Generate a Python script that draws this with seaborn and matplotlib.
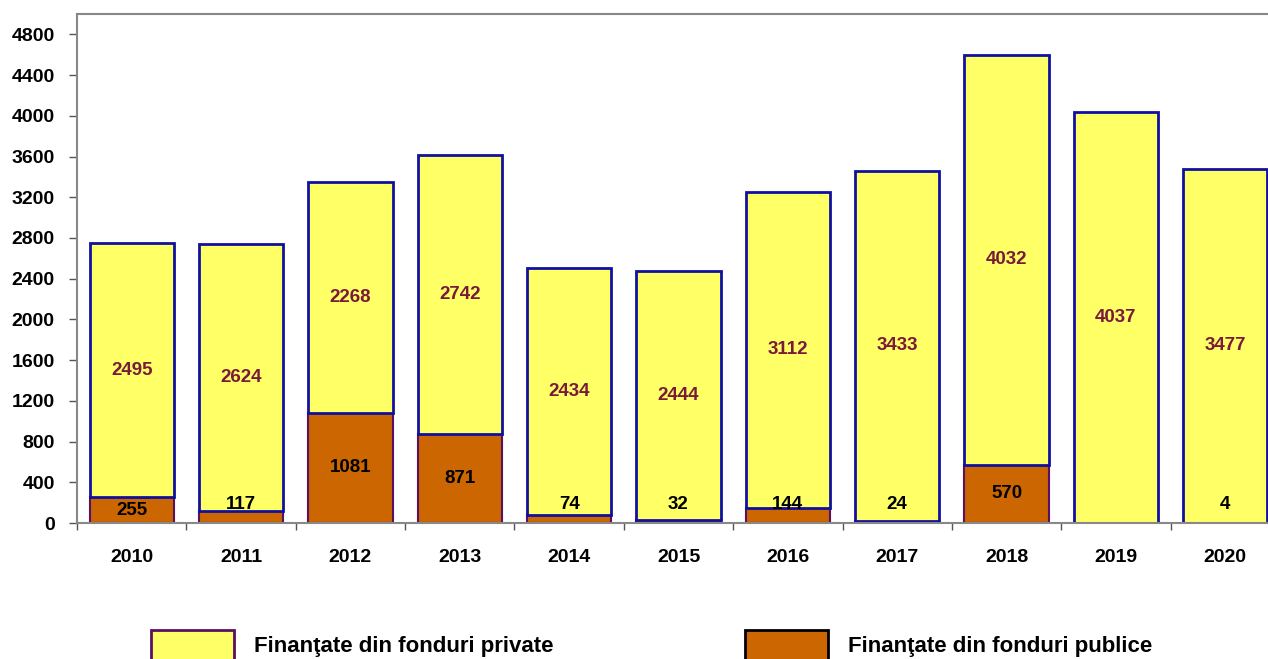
"""
Stacked bars: finantate din fonduri private / publice, 2010-2020.
"""
import matplotlib
matplotlib.use('Agg')
import matplotlib.pyplot as plt
import matplotlib.patches as mpatches
import seaborn as sns

years = ['2010', '2011', '2012', '2013', '2014', '2015',
         '2016', '2017', '2018', '2019', '2020']
private = [2495, 2624, 2268, 2742, 2434, 2444, 3112, 3433, 4032, 4037, 3477]
public = [255, 117, 1081, 871, 74, 32, 144, 24, 570, 0, 4]
public_labels = ['255', '117', '1081', '871', '74', '32', '144', '24', '570', '', '4']

label_private = 'Finanţate din fonduri private'
label_public = 'Finanţate din fonduri publice'

YELLOW = '#FFFF66'
ORANGE = '#CC6600'
BLUE_EDGE = '#1010A0'
PURPLE_EDGE = '#5A1060'
LABEL_RED = '#7A1A3A'

sns.set_style('white')
plt.rcParams['font.family'] = ['Liberation Sans', 'DejaVu Sans']
plt.rcParams['text.color'] = 'black'
plt.rcParams['xtick.color'] = 'black'
plt.rcParams['ytick.color'] = 'black'

fig = plt.figure(figsize=(12.68, 6.59), dpi=100)
ax = fig.add_axes([77 / 1268, 1 - 523 / 659, 1203 / 1268, 509 / 659])

# private segment, moved up on top of the public one
sns.barplot(x=years, y=private, color=YELLOW, edgecolor=BLUE_EDGE,
            linewidth=2, width=0.77, saturation=1, ax=ax, zorder=2)
for patch, base in zip(ax.patches, public):
    patch.set_y(base)

sns.barplot(x=years, y=public, color=ORANGE, edgecolor=PURPLE_EDGE,
            linewidth=1.5, width=0.77, saturation=1, ax=ax, zorder=1)

# labels
for i, (p, q) in enumerate(zip(private, public)):
    ax.text(i, q + p / 2, str(p), ha='center', va='center',
            fontsize=13.5, fontweight='bold', color=LABEL_RED, zorder=5)
    if public_labels[i]:
        y = q / 2 if q > 200 else 180
        ax.text(i, y, public_labels[i], ha='center', va='center',
                fontsize=13.5, fontweight='bold', color='black', zorder=5)

ax.set_ylim(0, 5000)
ax.set_xlim(-0.5, len(years) - 0.5)
ax.set_yticks(range(0, 5000, 400))
ax.tick_params(axis='y', labelsize=14, length=6, width=1, color='#555555',
               direction='out', left=True, pad=10)
ax.tick_params(axis='x', labelsize=14, length=0, pad=19)
ax.set_xticks(range(len(years)))
ax.set_xticklabels(years)
for lab in ax.get_xticklabels() + ax.get_yticklabels():
    lab.set_fontweight('bold')
# minor ticks at category boundaries
ax.set_xticks([i - 0.5 for i in range(len(years) + 1)], minor=True)
ax.tick_params(axis='x', which='minor', length=5, width=1, color='#555555',
               direction='out', bottom=True)

for side in ['left', 'top', 'bottom', 'right']:
    ax.spines[side].set_color('#888888')
    ax.spines[side].set_linewidth(1.5)

handles = [
    mpatches.Patch(facecolor=YELLOW, edgecolor=PURPLE_EDGE, linewidth=2,
                   label=label_private),
    mpatches.Patch(facecolor=ORANGE, edgecolor='black', linewidth=2,
                   label=label_public),
]
leg = fig.legend(handles=handles, loc='center left',
                 bbox_to_anchor=(151 / 1268, 1 - 645 / 659),
                 ncol=2, frameon=False, handlelength=3.75,
                 handleheight=1.7, handletextpad=0.9, columnspacing=8.6,
                 borderaxespad=0, borderpad=0,
                 prop={'size': 16, 'weight': 'bold'})

fig.savefig('out.png', dpi=100)
